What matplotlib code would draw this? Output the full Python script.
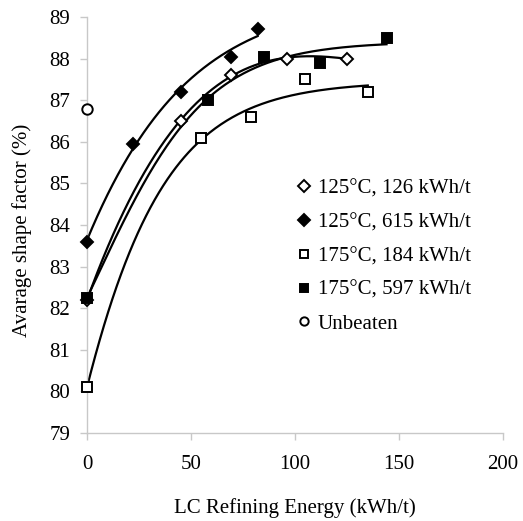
import numpy as np
import matplotlib
matplotlib.use("Agg")
import matplotlib.pyplot as plt

plt.rcParams['font.family'] = ['Liberation Serif', 'DejaVu Serif']

# Shape factor vs LC refining energy for each pretreatment
x_126 = [0, 45, 69, 96, 125]
y_126 = [82.2, 86.5, 87.6, 88.0, 88.0]

x_615 = [0, 22, 45, 69, 82]
y_615 = [83.6, 85.95, 87.2, 88.05, 88.7]

x_184 = [0, 55, 79, 105, 135]
y_184 = [80.1, 86.1, 86.6, 87.5, 87.2]

x_597 = [0, 58, 85, 112, 144]
y_597 = [82.25, 87.0, 88.05, 87.9, 88.5]

x_unb = [0]
y_unb = [86.8]

labels = ["125°C, 126 kWh/t", "125°C, 615 kWh/t", "175°C, 184 kWh/t",
          "175°C, 597 kWh/t", "Unbeaten"]


def cubic_trend(xs, ys, xx):
    return np.polyval(np.polyfit(xs, ys, 3), xx)


def logistic_trend(xs, ys, xx):
    # y = a + b / (1 + exp(-(x - m) / s)); m, s by grid search, a, b by least squares
    xs = np.asarray(xs, float)
    ys = np.asarray(ys, float)
    best = None
    for m in np.linspace(-80, 80, 161):
        for s in np.linspace(4, 150, 147):
            f = 1.0 / (1.0 + np.exp(-(xs - m) / s))
            A = np.column_stack([np.ones_like(xs), f])
            coef, *_ = np.linalg.lstsq(A, ys, rcond=None)
            err = np.sum((A @ coef - ys) ** 2)
            if best is None or err < best[0]:
                best = (err, m, s, coef)
    _, m, s, (a, b) = best
    return a + b / (1.0 + np.exp(-(xx - m) / s))


fig = plt.figure(figsize=(5.23, 5.21), dpi=100)
ax = fig.add_axes([87/523, 1-433/521, (503-87)/523, (433-17)/521])

series = [
    (x_126, y_126, 'D', 'white', 6.5, cubic_trend),
    (x_615, y_615, 'D', 'black', 6.5, logistic_trend),
    (x_184, y_184, 's', 'white', 7.5, logistic_trend),
    (x_597, y_597, 's', 'black', 7.5, logistic_trend),
]

for xs, ys, m, fc, ms, trend in series:
    xx = np.linspace(min(xs), max(xs), 200)
    ax.plot(xx, trend(xs, ys, xx), color='black', lw=1.6, zorder=2)

handles = []
for (xs, ys, m, fc, ms, trend), lab in zip(series, labels[:4]):
    h, = ax.plot(xs, ys, linestyle='none', marker=m, markersize=ms,
                 markerfacecolor=fc, markeredgecolor='black', markeredgewidth=1.4,
                 zorder=3, label=lab, clip_on=False)
    handles.append(h)
h, = ax.plot(x_unb, y_unb, linestyle='none', marker='o', markersize=7.5,
             markerfacecolor='white', markeredgecolor='black', markeredgewidth=1.4,
             zorder=3, label=labels[4], clip_on=False)
handles.append(h)

ax.set_xlim(0, 200)
ax.set_ylim(79, 89)
ax.set_xticks([0, 50, 100, 150, 200])
ax.set_yticks(range(79, 90))
for s in ['top', 'right']:
    ax.spines[s].set_visible(False)
for s in ['left', 'bottom']:
    ax.spines[s].set_color('#c8c8c8')
    ax.spines[s].set_linewidth(1.0)
ax.tick_params(axis='both', colors='#c8c8c8', labelcolor='black', length=5,
               width=1.0, labelsize=15, direction='out', pad=7)
ax.tick_params(axis='x', pad=11)

ax.set_xlabel("LC Refining Energy (kWh/t)", fontsize=15, labelpad=17)
ax.set_ylabel("Avarage shape factor (%)", fontsize=15)
ax.yaxis.set_label_coords(-55/416, 0.488)

leg = fig.legend(handles=handles, loc='upper left',
                 bbox_to_anchor=(298/523, 1-179/521), bbox_transform=fig.transFigure,
                 frameon=False, fontsize=15, handlelength=0.6, handletextpad=0.36,
                 labelspacing=0.68, borderaxespad=0, borderpad=0)
for lh in leg.legend_handles:
    lh.set_markersize(6)

fig.savefig("out.png", dpi=100)
